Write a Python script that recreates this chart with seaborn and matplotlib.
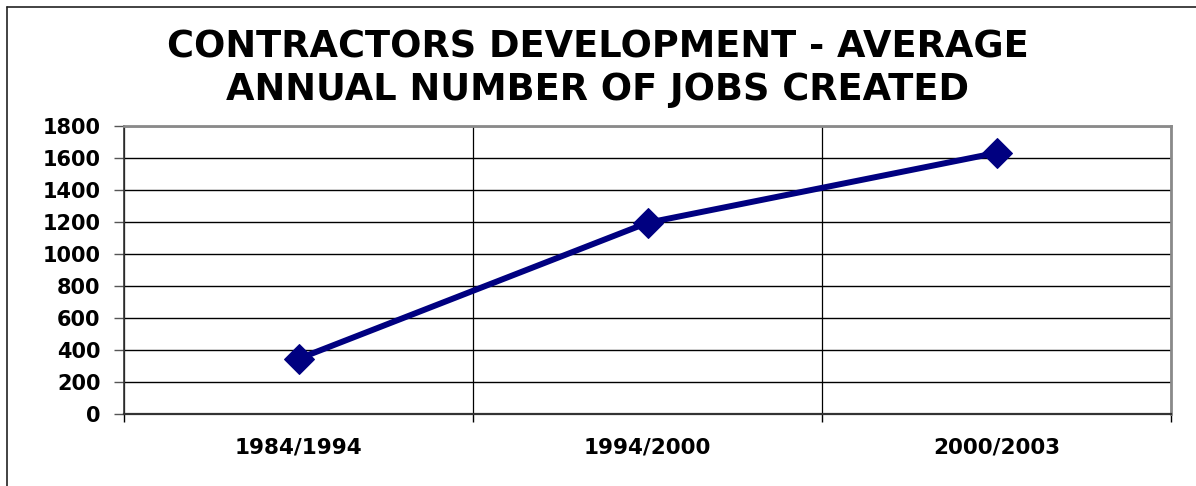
import matplotlib
matplotlib.use("Agg")
import matplotlib.pyplot as plt
import seaborn as sns
import pandas as pd
from matplotlib.lines import Line2D

periods = ["1984/1994", "1994/2000", "2000/2003"]
jobs = [345, 1195, 1632]
yticks = [0, 200, 400, 600, 800, 1000, 1200, 1400, 1600, 1800]
title = "CONTRACTORS DEVELOPMENT - AVERAGE\nANNUAL NUMBER OF JOBS CREATED"

sns.set_theme(style="white", rc={"text.color": "black", "xtick.color": "black",
                                 "ytick.color": "black", "axes.labelcolor": "black"})
plt.rcParams['font.family'] = ['DejaVu Sans']

df = pd.DataFrame({"period": periods, "jobs": jobs})

fig = plt.figure(figsize=(11.96, 4.86), dpi=100)
ax = fig.add_axes([124/1196, (486-414)/486, (1171-124)/1196, (414-126)/486])

sns.lineplot(data=df, x="period", y="jobs", ax=ax, color="#000080",
             linewidth=4.3, marker="D", markersize=15,
             markeredgecolor="#000080", markerfacecolor="#000080", sort=False)

ax.set_xlim(-0.5, len(periods) - 0.5)
ax.set_ylim(0, 1800)
ax.set_yticks(yticks)
ax.set_yticklabels([str(v) for v in yticks], fontsize=15, fontweight="bold")
ax.set_xticks(range(len(periods)))
ax.set_xticklabels(periods, fontsize=15.5, fontweight="bold")
ax.set_xticks([i - 0.5 for i in range(len(periods) + 1)], minor=True)
ax.tick_params(axis="x", which="major", length=0, pad=17)
ax.tick_params(axis="x", which="minor", length=6, width=1, color="black", direction="out", bottom=True)
ax.tick_params(axis="y", which="major", length=7, width=1, color="#555555", left=True, pad=10)
ax.set_xlabel("")
ax.set_ylabel("")

ax.yaxis.grid(True, color="black", linewidth=1)
ax.xaxis.grid(True, which="minor", color="black", linewidth=0.9)
ax.xaxis.grid(False, which="major")
ax.set_axisbelow(True)

for side in ["top", "right"]:
    ax.spines[side].set_color("#8a8a8a")
    ax.spines[side].set_linewidth(2)
ax.spines["left"].set_color("#333333")
ax.spines["left"].set_linewidth(1.2)
ax.spines["bottom"].set_color("#333333")
ax.spines["bottom"].set_linewidth(1.6)

fig.text(0.5, 1 - 68.5/486, title, ha="center", va="center", fontsize=26.5,
         fontweight="bold", linespacing=1.18, color="black")

# figure frame (top and left edges)
fig.add_artist(Line2D([7/1196, 1.0], [1 - 7/486, 1 - 7/486], transform=fig.transFigure, color="#222222", linewidth=1.2))
fig.add_artist(Line2D([7/1196, 7/1196], [0, 1 - 7/486], transform=fig.transFigure, color="#222222", linewidth=1.2))

fig.savefig("out.png", dpi=100)
